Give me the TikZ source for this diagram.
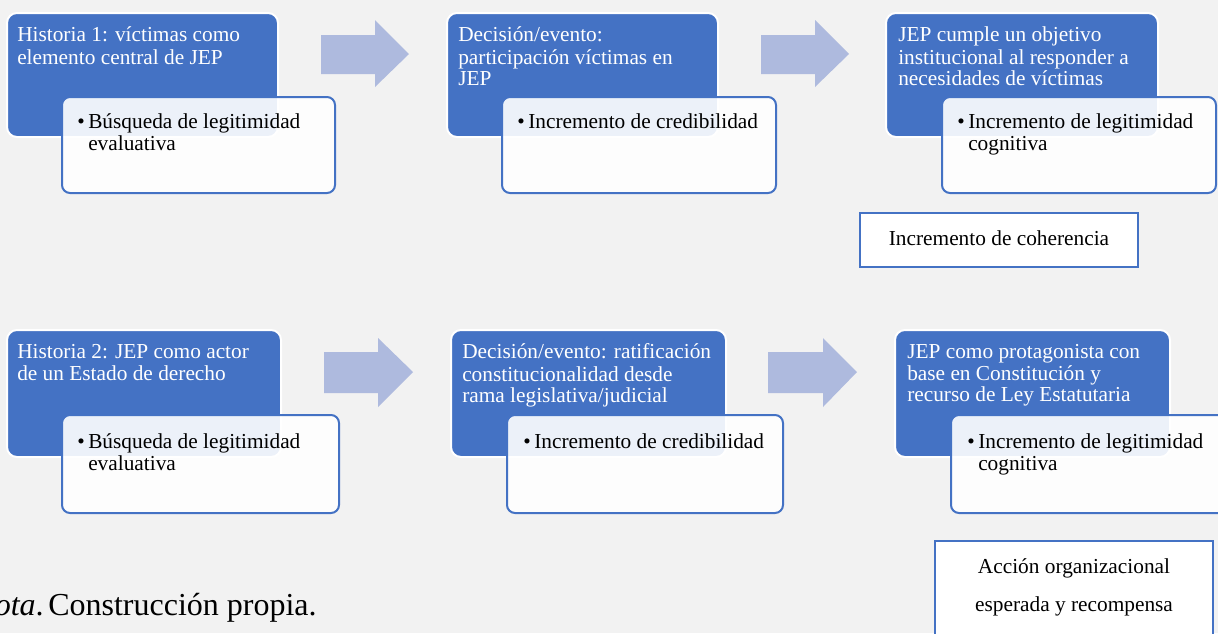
\documentclass[tikz,border=0pt]{standalone}
\usepackage{fontspec}
\setmainfont{Liberation Serif}
\usetikzlibrary{fit}
\definecolor{accblue}{RGB}{68,114,196}
\definecolor{arrowblue}{RGB}{174,186,222}
\definecolor{bggray}{RGB}{242,242,242}
\tikzset{
  bluebox/.style={fill=accblue, draw=white, line width=1.5pt, rounded corners=7.5pt, inner sep=0pt},
  whitebox/.style={fill=white, fill opacity=0.9, draw=accblue, draw opacity=1, line width=1.5pt, rounded corners=6pt, inner sep=0pt},
  plainbox/.style={fill=white, draw=accblue, line width=1.5pt, inner sep=0pt},
  bluetext/.style={anchor=north west, inner sep=0pt, text=white, align=left, font=\fontsize{16}{15.75}\selectfont},
  bullettext/.style={anchor=north west, inner sep=0pt, text=black, align=left, font=\fontsize{16}{16.5}\selectfont},
  plaintext/.style={anchor=base, inner sep=0pt, text=black, font=\fontsize{16}{18}\selectfont},
  notetext/.style={inner sep=0pt, text=black, font=\fontsize{24}{28}\selectfont},
  blockarrow/.style={fill=arrowblue, draw=none},
}
\newcommand{\bul}{\makebox[8.25pt][l]{•}}
\newcommand{\ind}{\hspace*{8.25pt}}
\begin{document}
\begin{tikzpicture}[x=0.75pt, y=-0.75pt]
  \useasboundingbox (0,0) rectangle (1218,633);
  \clip (0,0) rectangle (1218,633);
  \fill[bggray] (0,0) rectangle (1218,633);

  % ---------- top row ----------
  \node[bluebox, fit={(7,13) (278,137)}] (b1) {};
  \node[whitebox, fit={(62,97) (335,193)}] (w1) {};
  \node[bluetext] (t1) at (17,26.8) {\strut Historia 1: víctimas como\\elemento central de JEP};
  \node[bullettext] (u1) at (77,112.8) {\strut\bul Búsqueda de legitimidad\\\ind evaluativa};

  \fill[blockarrow] (321,35) -- (375,35) -- (375,20) -- (409,54) -- (375,87) -- (375,74) -- (321,74) -- cycle;

  \node[bluebox, fit={(447,13) (718,137)}] (b2) {};
  \node[whitebox, fit={(502,97) (776,193)}] (w2) {};
  \node[bluetext] (t2) at (458,26.8) {\strut Decisión/evento:\\participación víctimas en\\JEP};
  \node[bullettext] (u2) at (517,112.8) {\strut\bul Incremento de credibilidad};

  \fill[blockarrow] (761,35) -- (815,35) -- (815,20) -- (849,54) -- (815,87) -- (815,74) -- (761,74) -- cycle;

  \node[bluebox, fit={(886,13) (1158,137)}] (b3) {};
  \node[whitebox, fit={(942,97) (1216,193)}] (w3) {};
  \node[bluetext] (t3) at (898,26.8) {\strut JEP cumple un objetivo\\institucional al responder a\\necesidades de víctimas};
  \node[bullettext] (u3) at (957,112.8) {\strut\bul Incremento de legitimidad\\\ind cognitiva};

  \node[plainbox, fit={(860,213) (1138,267)}] (c1) {};
  \node[plaintext] (c1t) at (999,245) {Incremento de coherencia};

  % ---------- bottom row ----------
  \node[bluebox, fit={(7,330) (281,457)}] (b4) {};
  \node[whitebox, fit={(62,415) (339,513)}] (w4) {};
  \node[bluetext] (t4) at (17,343.5) {\strut Historia 2: JEP como actor\\de un Estado de derecho};
  \node[bullettext] (u4) at (77,432.8) {\strut\bul Búsqueda de legitimidad\\\ind evaluativa};

  \fill[blockarrow] (324,352) -- (378,352) -- (378,338) -- (413,372) -- (378,407) -- (378,393) -- (324,393) -- cycle;

  \node[bluebox, fit={(451,330) (726,457)}] (b5) {};
  \node[whitebox, fit={(507,415) (783,513)}] (w5) {};
  \node[bluetext] (t5) at (462,343.5) {\strut Decisión/evento: ratificación\\constitucionalidad desde\\rama legislativa/judicial};
  \node[bullettext] (u5) at (523,432.8) {\strut\bul Incremento de credibilidad};

  \fill[blockarrow] (768,352) -- (823,352) -- (823,338) -- (857,372) -- (823,407) -- (823,393) -- (768,393) -- cycle;

  \node[bluebox, fit={(895,330) (1170,457)}] (b6) {};
  \node[whitebox, fit={(951,415) (1240,513)}] (w6) {};
  \node[bluetext] (t6) at (907,343.5) {\strut JEP como protagonista con\\base en Constitución y\\recurso de Ley Estatutaria};
  \node[bullettext] (u6) at (967,432.8) {\strut\bul Incremento de legitimidad\\\ind cognitiva};

  \node[plainbox, fit={(935,541) (1213,650)}] (a0) {};
  \node[plaintext] (a1) at (1074,573) {Acción organizacional};
  \node[plaintext] (a2) at (1074,611) {esperada y recompensa};

  \node[notetext, anchor=base east] (nota) at (44,615) {\textit{Nota}.};
  \node[notetext, anchor=base west] (fuente) at (48,615) {Construcción propia.};
\end{tikzpicture}
\end{document}
